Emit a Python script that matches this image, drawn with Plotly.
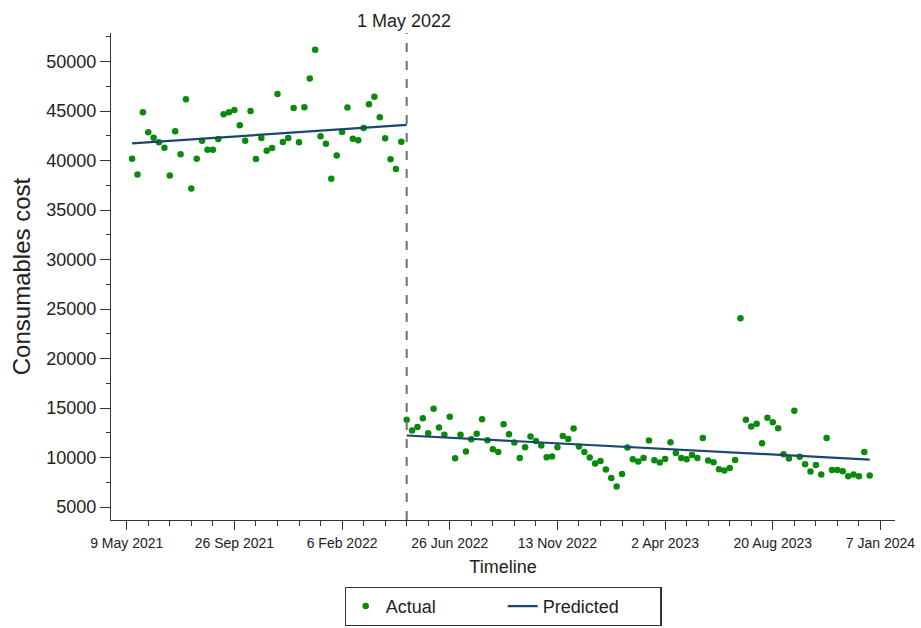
import plotly.graph_objects as go

# ---- data (weeks counted from 9 May 2021 = week 0) ----
pre_weeks = list(range(1, 52))
pre_cost = [40184, 38595, 44869, 42845, 42309, 41833, 41297, 38494, 42946, 40619,
            46185, 37178, 40184, 42005, 41094, 41094, 42177, 44667, 44869, 45110,
            43559, 42005, 45009, 40150, 42275, 40993, 41266, 46727, 41874, 42275,
            45312, 41833, 45380, 48280, 51184, 42440, 41702, 38160, 40517, 42885,
            45346, 42208, 42040, 43288, 45684, 46428, 44363, 42241, 40119, 39141,
            41904]
post_weeks = list(range(52, 139))
post_cost = [13801, 12728, 13092, 13973, 12455, 14914, 13031, 12286, 14104, 9925,
             12286, 10603, 11848, 12387, 13872, 11746, 10836, 10563, 13366, 12354,
             11514, 9955, 11038, 12119, 11676, 11210, 10026, 10097, 11038, 12181,
             11878, 12930, 11109, 10563, 9996, 9388, 9651, 8781, 7932, 7062,
             8337, 11008, 9824, 9590, 9955, 11717, 9722, 9489, 9854, 11544,
             10462, 9955, 9824, 10260, 9955, 11980, 9692, 9520, 8812, 8680,
             8944, 9753, 24062, 13801, 13133, 13397, 11443, 14003, 13568, 12961,
             10330, 9894, 14711, 10066, 9318, 8579, 9247, 8275, 11980, 8741,
             8741, 8610, 8103, 8275, 8103, 10563, 8174]

pred_pre_weeks = [1, 52]
pred_pre = [41731, 43594]
pred_post_weeks = [52, 138]
pred_post = [12221, 9793]

intervention_week = 52
intervention_label = "1 May 2022"

tick_weeks = [0, 20, 40, 60, 80, 100, 120, 140]
tick_labels = ["9 May 2021", "26 Sep 2021", "6 Feb 2022", "26 Jun 2022",
               "13 Nov 2022", "2 Apr 2023", "20 Aug 2023", "7 Jan 2024"]
y_ticks = list(range(5000, 50001, 5000))

FONT = "Arial, Liberation Sans, sans-serif"
GREEN = "#0a8a0a"
NAVY = "#1a476f"

fig = go.Figure()
fig.add_trace(go.Scatter(
    x=pre_weeks + post_weeks, y=pre_cost + post_cost,
    mode="markers", name="Actual",
    marker=dict(color=GREEN, size=6.5, line=dict(width=0)),
))
fig.add_trace(go.Scatter(
    x=pred_pre_weeks + [None] + pred_post_weeks,
    y=pred_pre + [None] + pred_post,
    mode="lines", name="Predicted",
    line=dict(color=NAVY, width=2.2),
))

fig.add_shape(type="line", xref="x", yref="paper",
              x0=intervention_week, x1=intervention_week, y0=0, y1=1,
              line=dict(color="#707070", width=2, dash="dash"))
fig.add_annotation(x=intervention_week, xref="x", y=1, yref="paper",
                   yanchor="bottom", yshift=0, xshift=-3, showarrow=False,
                   text=intervention_label,
                   font=dict(family=FONT, size=18, color="#222"))

fig.update_layout(
    width=921, height=628,
    margin=dict(l=111, r=26, t=33, b=108, autoexpand=False),
    paper_bgcolor="white", plot_bgcolor="white",
    font=dict(family=FONT, color="#222"),
    showlegend=True,
    legend=dict(orientation="h", x=0.5, xanchor="center", xref="paper",
                y=-0.137, yanchor="top",
                bordercolor="#333", borderwidth=1.2,
                font=dict(family=FONT, size=18, color="#222"),
                entrywidth=112, itemwidth=30, tracegroupgap=0),
)
fig.update_xaxes(
    range=[-2.92, 142.7], showgrid=False, zeroline=False, automargin=False,
    showline=True, linecolor="#333", linewidth=1.2,
    tickmode="array", tickvals=tick_weeks, ticktext=tick_labels,
    ticks="outside", ticklen=9, tickwidth=1.2, tickcolor="#333",
    ticklabelstandoff=1,
    tickfont=dict(family=FONT, size=14, color="#222"),
    minor=dict(dtick=4, tick0=0, ticks="outside", ticklen=5, tickwidth=1.2,
               tickcolor="#333", showgrid=False),
    title=dict(text="Timeline", font=dict(family=FONT, size=18, color="#222"),
               standoff=10),
)
fig.update_yaxes(
    range=[3687, 52879], showgrid=False, zeroline=False, automargin=False,
    showline=True, linecolor="#333", linewidth=1.2,
    tickmode="array", tickvals=y_ticks, tickformat="d",
    ticks="outside", ticklen=10, tickwidth=1.2, tickcolor="#333",
    tickfont=dict(family=FONT, size=18, color="#222"),
    minor=dict(dtick=2500, tick0=0, ticks="outside", ticklen=4, tickwidth=1.2,
               tickcolor="#333", showgrid=False),
    title=dict(text="Consumables cost", font=dict(family=FONT, size=24, color="#222"),
               standoff=8),
)

fig.write_html("out.html", config={"displayModeBar": False},
               post_script="document.body.style.margin='0';")
